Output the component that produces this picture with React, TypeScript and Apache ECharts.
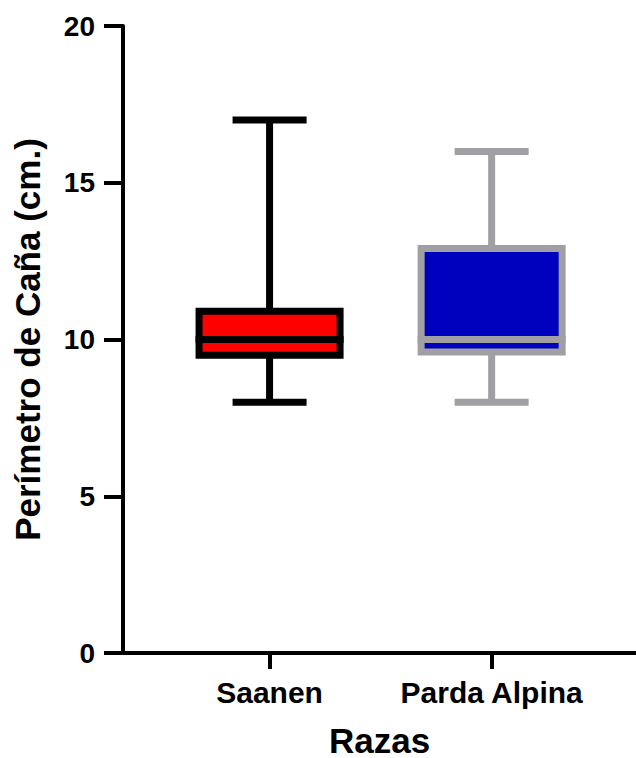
import React, { useEffect, useRef } from "react";
import * as echarts from "echarts";

const categories = ["Saanen", "Parda Alpina"];
const categoryPos = [1, 2];
// [min, Q1, median, Q3, max]
const saanenBox = [8, 9.5, 10, 10.9, 17];
const pardaBox = [8, 9.6, 10, 12.9, 16];
const boxes = [saanenBox, pardaBox];
const fillColors = ["#FF0000", "#0000BF"];
const strokeColors = ["#000000", "#A0A0A4"];
const yTicks = [0, 5, 10, 15, 20];

const FONT = "'Liberation Sans', Arial, Helvetica, sans-serif";

export default function App() {
  const ref = useRef<HTMLDivElement>(null);
  useEffect(() => {
    if (!ref.current) return;
    const chart = echarts.init(ref.current, null, { renderer: "svg" });
    const data = boxes.map((b, i) => [categoryPos[i], ...b]);
    const BOX_HALF = 0.3175; // in x data units
    const LW = 7;
    chart.setOption({
      animation: false,
      grid: {
        left: 123,
        right: 0,
        top: 26,
        bottom: 105,
        containLabel: false,
        outerBoundsMode: "none",
      },
      xAxis: {
        type: "value",
        min: 0.34,
        max: 2.65,
        name: "Razas",
        nameLocation: "middle",
        nameGap: 72,
        nameTextStyle: { fontFamily: FONT, fontWeight: "bold", fontSize: 35, color: "#000", lineHeight: 30 },
        splitLine: { show: false },
        axisLine: { show: true, onZero: false, lineStyle: { color: "#000", width: 4 } },
        axisTick: { show: true, customValues: categoryPos, length: 16, lineStyle: { color: "#000", width: 4 } },
        axisLabel: {
          customValues: categoryPos,
          formatter: (v: number) => categories[categoryPos.indexOf(Math.round(v))] ?? "",
          fontFamily: FONT,
          fontWeight: "bold",
          fontSize: 30,
          color: "#000",
          margin: 24,
        },
      },
      yAxis: {
        type: "value",
        min: yTicks[0],
        max: yTicks[yTicks.length - 1],
        interval: 5,
        name: "Perímetro de Caña (cm.)",
        nameLocation: "middle",
        nameGap: 78,
        nameTextStyle: { fontFamily: FONT, fontWeight: "bold", fontSize: 35, color: "#000" },
        splitLine: { show: false },
        axisLine: { show: true, lineStyle: { color: "#000", width: 4 } },
        axisTick: { show: true, length: 19, lineStyle: { color: "#000", width: 4 } },
        axisLabel: {
          fontFamily: FONT,
          fontWeight: "bold",
          fontSize: 28,
          color: "#000",
          margin: 28,
        },
      },
      series: [
        {
          type: "custom",
          data,
          encode: { x: 0, y: [1, 2, 3, 4, 5] },
          clip: false,
          renderItem: (params: any, api: any) => {
            const i = params.dataIndex;
            const x = api.value(0);
            const mn = api.coord([x, api.value(1)]);
            const q1 = api.coord([x, api.value(2)]);
            const md = api.coord([x, api.value(3)]);
            const q3 = api.coord([x, api.value(4)]);
            const mx = api.coord([x, api.value(5)]);
            const half = api.size([BOX_HALF, 0])[0];
            const cx = mn[0];
            const stroke = strokeColors[i];
            const ls = { stroke, lineWidth: LW, lineCap: "butt" };
            const capHalf = (half + LW / 2) / 2;
            return {
              type: "group",
              children: [
                { type: "line", shape: { x1: cx, y1: mx[1], x2: cx, y2: q3[1] }, style: ls },
                { type: "line", shape: { x1: cx, y1: q1[1], x2: cx, y2: mn[1] }, style: ls },
                { type: "line", shape: { x1: cx - capHalf, y1: mx[1], x2: cx + capHalf, y2: mx[1] }, style: ls },
                { type: "line", shape: { x1: cx - capHalf, y1: mn[1], x2: cx + capHalf, y2: mn[1] }, style: ls },
                {
                  type: "rect",
                  shape: { x: cx - half, y: q3[1], width: half * 2, height: q1[1] - q3[1] },
                  style: { fill: fillColors[i], stroke, lineWidth: LW },
                },
                {
                  type: "line",
                  shape: { x1: cx - half - LW / 2, y1: md[1], x2: cx + half + LW / 2, y2: md[1] },
                  style: ls,
                },
              ],
            };
          },
        },
      ],
    });
    return () => chart.dispose();
  }, []);
  return (
    <div
      ref={ref}
      style={{ position: "fixed", left: 0, top: 0, width: 636, height: 758, background: "#fff" }}
    />
  );
}
